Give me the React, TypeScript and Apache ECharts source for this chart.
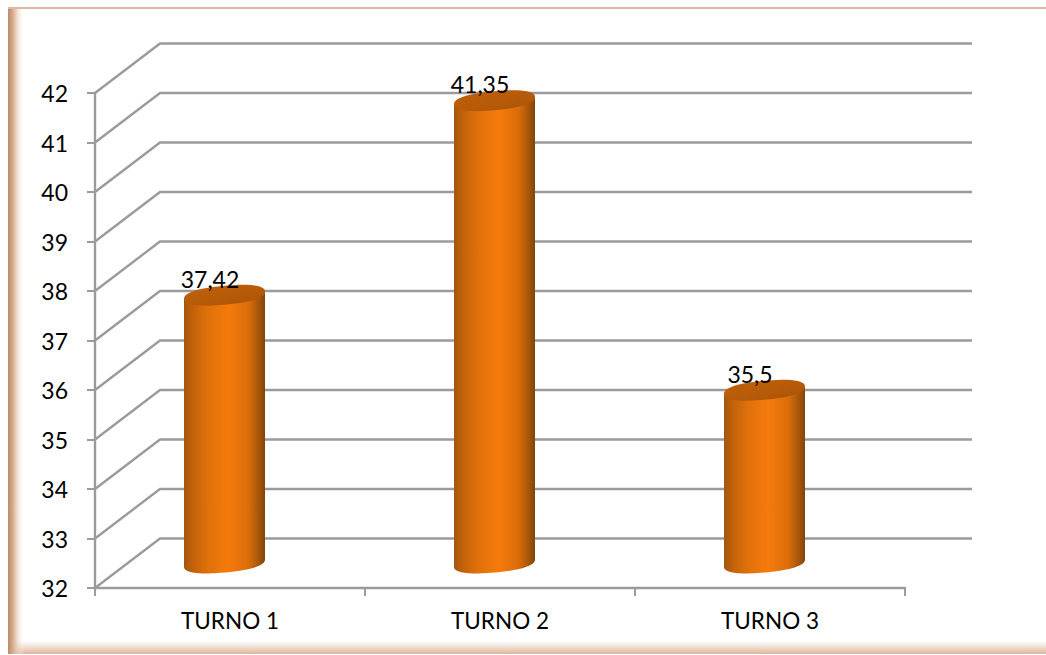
import React, { useEffect, useRef } from "react";
import * as echarts from "echarts";

const categories = ["TURNO 1", "TURNO 2", "TURNO 3"];
const values = [37.42, 41.35, 35.5];
const valueLabels = ["37,42", "41,35", "35,5"];
const axisTicks = [32, 33, 34, 35, 36, 37, 38, 39, 40, 41, 42];

const GRAY = "#9b9b9b";
const FONT = "Lato, Carlito, 'Open Sans', sans-serif";
// Oblique depth of the back wall, in pixels.
const DEPTH_X = 65;
const DEPTH_Y = 49.5;
const BAR_RX = 40.5;
const BAR_RY = 9.5;
const BAR_TILT = 3.6;
const RIM_STEPS = 48;

function wallLine(params: any, api: any) {
  const value = api.value(1);
  const [, y] = api.coord([0, value]);
  const left = params.coordSys.x;
  const right = left + params.coordSys.width;
  return {
    type: "polyline",
    shape: {
      points: [
        [left, y],
        [left + DEPTH_X, y - DEPTH_Y],
        [right + DEPTH_X + 2, y - DEPTH_Y],
      ],
    },
    style: { stroke: GRAY, lineWidth: 2.4, fill: "none" },
  };
}

// Point on the sheared ellipse that forms a cylinder rim; the right side sits higher.
function rimPoint(cx: number, cy: number, angle: number) {
  const c = Math.cos(angle);
  const s = Math.sin(angle);
  const bluntC = Math.sign(c) * Math.pow(Math.abs(c), 0.85);
  const bluntS = Math.sign(s) * Math.pow(Math.abs(s), 0.85);
  return [cx + BAR_RX * bluntC, cy + BAR_RY * bluntS - BAR_TILT * bluntC];
}

function rimArc(cx: number, cy: number, from: number, to: number) {
  const points: number[][] = [];
  for (let i = 0; i <= RIM_STEPS; i++) {
    points.push(rimPoint(cx, cy, from + ((to - from) * i) / RIM_STEPS));
  }
  return points;
}

function cylinder(params: any, api: any) {
  const index = api.value(0);
  const [center, top] = api.coord([index, api.value(1)]);
  const [, base] = api.coord([index, axisTicks[0]]);
  const cx = center - 5.5;
  const topY = top - 24.5;
  const baseY = base - 25;
  // The front of the body runs along the lower half of the base rim.
  const bodyPoints = [
    rimPoint(cx, topY, Math.PI),
    ...rimArc(cx, baseY, Math.PI, 0),
    rimPoint(cx, topY, 0),
  ];
  const capPoints = rimArc(cx, topY, 0, Math.PI * 2);
  return {
    type: "group",
    children: [
      {
        type: "polygon",
        shape: { points: bodyPoints },
        style: {
          fill: new echarts.graphic.LinearGradient(0, 0, 1, 0, [
            { offset: 0, color: "#a2560f" },
            { offset: 0.12, color: "#c5630a" },
            { offset: 0.3, color: "#e0710b" },
            { offset: 0.55, color: "#f67a0b" },
            { offset: 0.8, color: "#d96d0a" },
            { offset: 0.93, color: "#a35509" },
            { offset: 1, color: "#824408" },
          ]),
        },
      },
      {
        type: "polygon",
        shape: { points: capPoints },
        style: {
          fill: new echarts.graphic.LinearGradient(0, 0, 1, 1, [
            { offset: 0, color: "#c2620a" },
            { offset: 0.6, color: "#b55a08" },
            { offset: 1, color: "#a85206" },
          ]),
        },
      },
      {
        type: "text",
        style: {
          text: valueLabels[index],
          x: center - 20,
          y: top - 41,
          align: "center",
          verticalAlign: "middle",
          font: `23px ${FONT}`,
          fill: "#000000",
        },
      },
    ],
  };
}

export default function App() {
  const ref = useRef<HTMLDivElement>(null);

  useEffect(() => {
    const chart = echarts.init(ref.current, undefined, { renderer: "svg" });
    chart.setOption({
      animation: false,
      backgroundColor: "#ffffff",
      grid: { left: 95, top: 93, width: 810, height: 495 },
      graphic: [
        {
          type: "rect",
          silent: true,
          z: 0,
          shape: { x: 8, y: 641, width: 1038, height: 13 },
          style: {
            fill: new echarts.graphic.LinearGradient(0, 0, 0, 1, [
              { offset: 0, color: "rgba(222,184,156,0)" },
              { offset: 1, color: "#deb89c" },
            ]),
          },
        },
        {
          type: "rect",
          silent: true,
          z: 0,
          shape: { x: 8, y: 8, width: 17, height: 646 },
          style: {
            fill: new echarts.graphic.LinearGradient(0, 0, 1, 0, [
              { offset: 0, color: "#bd8a64" },
              { offset: 0.3, color: "#d9ae90" },
              { offset: 1, color: "rgba(255,255,255,0)" },
            ]),
          },
        },
        {
          type: "rect",
          silent: true,
          z: 0,
          shape: { x: 8, y: 7, width: 1038, height: 2 },
          style: { fill: "#dcb9a0" },
        },
      ],
      xAxis: {
        type: "category",
        data: categories,
        boundaryGap: true,
        axisLine: { lineStyle: { color: GRAY, width: 2.4 } },
        axisTick: { show: true, length: 8, lineStyle: { color: GRAY, width: 2 } },
        axisLabel: { color: "#000000", fontFamily: FONT, fontSize: 22.5, margin: 21 },
      },
      yAxis: {
        type: "value",
        min: 32,
        max: 42,
        interval: 1,
        splitLine: { show: false },
        axisLine: { show: true, lineStyle: { color: GRAY, width: 2.4 } },
        axisTick: { show: true, length: 8, lineStyle: { color: GRAY, width: 2 } },
        axisLabel: { color: "#000000", fontFamily: FONT, fontSize: 23, margin: 27 },
      },
      series: [
        {
          type: "custom",
          z: 1,
          silent: true,
          renderItem: wallLine,
          data: axisTicks.map((t) => [0, t]),
          encode: { x: 0, y: 1 },
        },
        {
          type: "custom",
          z: 3,
          silent: true,
          renderItem: cylinder,
          data: values.map((v, i) => [i, v]),
          encode: { x: 0, y: 1 },
        },
      ],
    });
    return () => chart.dispose();
  }, []);

  return (
    <div
      ref={ref}
      style={{ position: "absolute", left: 0, top: 0, width: 1046, height: 655 }}
    />
  );
}
